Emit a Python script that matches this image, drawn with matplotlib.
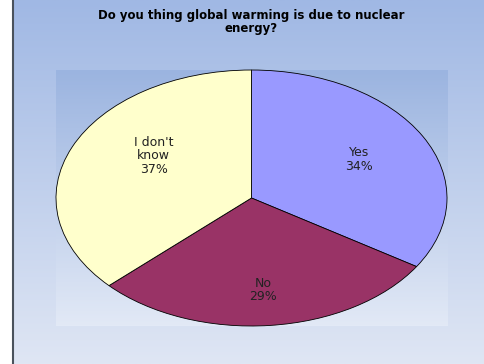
import numpy as np
import matplotlib.pyplot as plt
from matplotlib.colors import LinearSegmentedColormap

titel = 'Do you thing global warming is due to nuclear\nenergy?'
antworten = ['Yes', 'No', "I don't\nknow"]
anteile = [34, 29, 37]
farben = ['#9999ff', '#993366', '#ffffcc']

fig = plt.figure(figsize=(4.84, 3.64), dpi=100)
fig.patch.set_facecolor('white')

# Hintergrund mit Verlauf
bg = fig.add_axes([14 / 484, 0, 1 - 14 / 484, 1])
verlauf = LinearSegmentedColormap.from_list('bg', ['#a0b8e4', '#dfe6f4'])
bg.imshow(np.linspace(0, 1, 256).reshape(-1, 1), cmap=verlauf, aspect='auto',
          extent=[0, 1, 0, 1], origin='upper')
bg.set_axis_off()
fig.add_artist(plt.Line2D([13 / 484, 13 / 484], [0, 1], color='#4a525c', lw=1.5))

# Plotbereich, etwas heller abgesetzt
links, unten, breite, hoehe = 56 / 484, 38 / 364, 391 / 484, 256 / 364
pa = fig.add_axes([links, unten, breite, hoehe])
verlauf2 = LinearSegmentedColormap.from_list('pa', ['#9bb4e0', '#e2e9f6'])
pa.imshow(np.linspace(0, 1, 256).reshape(-1, 1), cmap=verlauf2, aspect='auto',
          extent=[0, 1, 0, 1], origin='upper')
pa.set_axis_off()

ax = fig.add_axes([links, unten, breite, hoehe])
keile, texte = ax.pie(anteile, colors=farben, startangle=90, counterclock=False,
                      wedgeprops=dict(edgecolor='black', linewidth=0.6))
ax.set_aspect('auto')
ax.set_xlim(-1.0, 1.0)
ax.set_ylim(-1.0, 1.0)
ax.set_axis_off()

# Beschriftungen in den Segmenten
pos = [(0.55, 0.30), (0.06, -0.72), (-0.50, 0.33)]
for name, wert, (x, y) in zip(antworten, anteile, pos):
    ax.text(x, y, f'{name}\n{wert}%', ha='center', va='center', fontsize=9,
            family='DejaVu Sans', color='#222222', linespacing=1.05)

fig.text(251 / 484, 1 - 22 / 364, titel, ha='center', va='center', fontsize=8.5,
         fontweight='bold', linespacing=0.95)

fig.savefig('out.png', dpi=100)
plt.close(fig)
